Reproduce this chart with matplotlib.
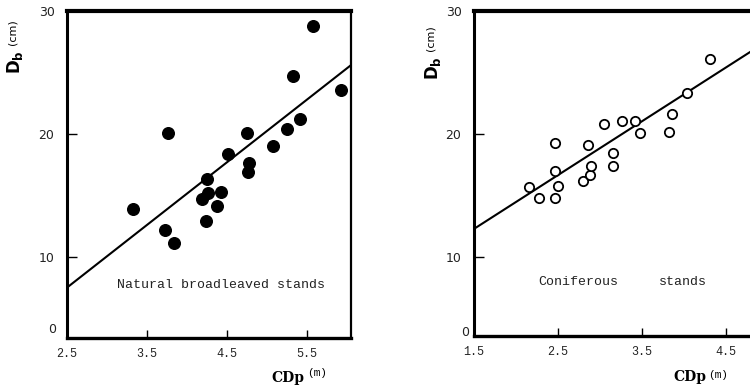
import numpy as np
import matplotlib
matplotlib.use("Agg")
import matplotlib.pyplot as plt

# natural broadleaved stands (filled dots)
broad_cdp = [3.33, 3.76, 3.73, 3.84, 4.19, 4.25, 4.26, 4.24, 4.38, 4.42,
             4.51, 4.75, 4.77, 4.76, 5.07, 5.25, 5.41, 5.33, 5.58, 5.93]
broad_db = [13.9, 20.1, 12.2, 11.1, 14.7, 16.3, 15.2, 12.9, 14.1, 15.3,
            18.4, 20.1, 17.6, 16.9, 19.0, 20.4, 21.2, 24.7, 28.8, 23.6]
broad_fit_x = [2.5, 6.05]
broad_fit_y = [7.5, 25.6]

# coniferous stands (open circles)
conif_cdp = [2.16, 2.27, 2.46, 2.46, 2.46, 2.50, 2.80, 2.88, 2.89, 2.86,
             3.05, 3.15, 3.15, 3.26, 3.42, 3.48, 3.82, 3.86, 4.03, 4.31]
conif_db = [15.7, 14.8, 17.0, 19.3, 14.8, 15.8, 16.2, 16.7, 17.4, 19.1,
            20.8, 18.5, 17.4, 21.1, 21.1, 20.1, 20.2, 21.6, 23.3, 26.1]
conif_fit_x = [1.5, 5.0]
conif_fit_y = [12.3, 27.6]

y_ticks = [10, 20, 30]
broad_xticks = [2.5, 3.5, 4.5, 5.5]
conif_xticks = [1.5, 2.5, 3.5, 4.5]

fig = plt.figure(figsize=(7.5, 3.91), dpi=100)
ax1 = fig.add_axes([0.0893, 0.1355, 0.3787, 0.8363])
ax2 = fig.add_axes([0.632, 0.1407, 0.392, 0.8312])

def style(ax, xticks, xlim, ylim):
    ax.set_xlim(*xlim)
    ax.set_ylim(*ylim)
    ax.set_yticks(y_ticks)
    ax.set_yticklabels([str(t) for t in y_ticks], fontsize=9, color="#222222")
    ax.set_xticks(xticks)
    ax.set_xticklabels(["%.1f" % t for t in xticks], family="Liberation Mono",
                       fontsize=8.5, color="#222222")
    ax.tick_params(axis="y", direction="in", length=7, width=1, pad=9)
    ax.tick_params(axis="x", direction="in", length=6, width=1, pad=7)
    ax.spines["top"].set_linewidth(3.0)
    ax.spines["left"].set_linewidth(2.2)
    ax.spines["bottom"].set_linewidth(2.4)
    ax.spines["right"].set_linewidth(1.6)

style(ax1, broad_xticks, (2.5, 6.05), (3.4, 30))
ax1.scatter(broad_cdp, broad_db, s=70, color="black", zorder=3)
ax1.plot(broad_fit_x, broad_fit_y, color="black", lw=1.5)
ax1.text(4.43, 7.7, "Natural broadleaved stands", family="Liberation Mono",
         fontsize=9.5, ha="center", va="center", color="#222222")
ax1.text(-0.053, 0.025, "0", transform=ax1.transAxes, fontsize=9,
         ha="center", va="center", color="#222222")

style(ax2, conif_xticks, (1.5, 5.0), (3.6, 30))
ax2.scatter(conif_cdp, conif_db, s=45, facecolor="white", edgecolor="black",
            linewidth=1.3, zorder=3)
ax2.plot(conif_fit_x, conif_fit_y, color="black", lw=1.5)
ax2.text(2.26, 8.0, "Coniferous", family="Liberation Mono", fontsize=9.5,
         ha="left", va="center", color="#222222")
ax2.text(3.70, 8.0, "stands", family="Liberation Mono", fontsize=9.5,
         ha="left", va="center", color="#222222")
ax2.text(-0.03, 0.012, "0", transform=ax2.transAxes, fontsize=9,
         ha="center", va="center", color="#222222")

# axis titles
for xd, yd, xc, yc in [(15, 62, 13, 32), (433, 68, 431, 38)]:
    fig.text(xd / 750, 1 - yd / 391, r"$\mathbf{D_b}$", fontsize=12,
             rotation=90, ha="center", va="center")
    fig.text(xc / 750, 1 - yc / 391, "(cm)", fontsize=8,
             rotation=90, ha="center", va="center")
for xd, yd, xm, ym in [(288, 378, 317, 373), (690, 377, 718, 375)]:
    fig.text(xd / 750, 1 - yd / 391, "CDp", family="DejaVu Serif",
             weight="bold", fontsize=10, ha="center", va="center")
    fig.text(xm / 750, 1 - ym / 391, "(m)", family="Liberation Mono",
             fontsize=8, ha="center", va="center")

fig.savefig("out.png", dpi=100)
